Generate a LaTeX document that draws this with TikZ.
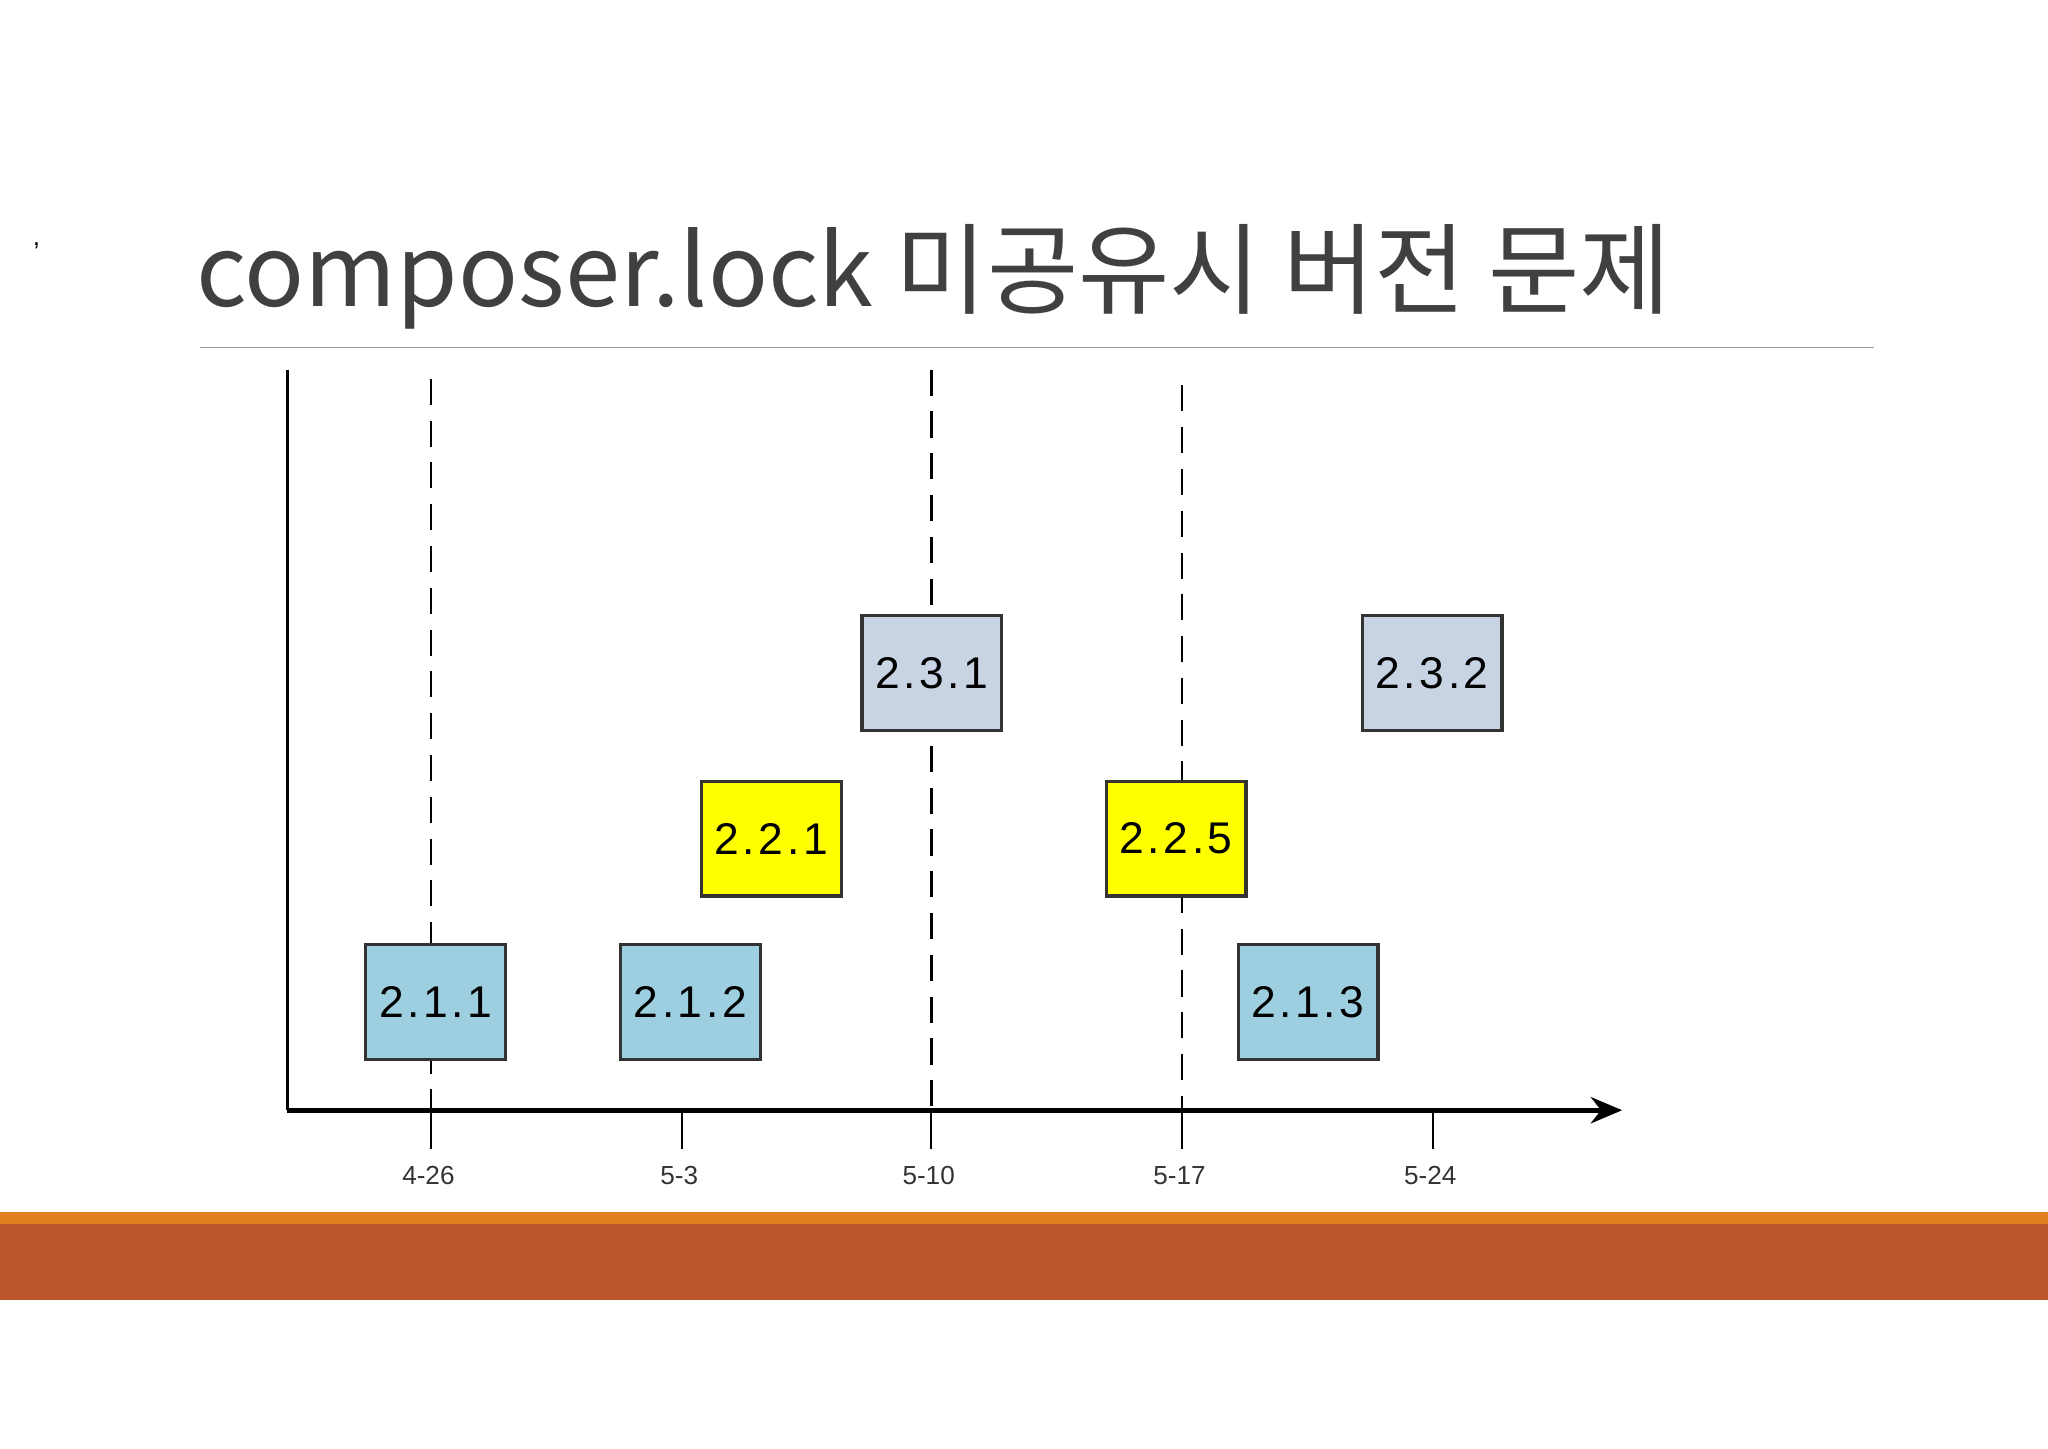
\documentclass[tikz,border=0pt]{standalone}
\usepackage{fontspec}
\setmainfont{Liberation Sans}
\newfontfamily\kr{Noto Sans CJK KR}
\usetikzlibrary{arrows.meta}
\definecolor{tblue}{HTML}{9DCFE0}
\definecolor{tgray}{HTML}{C8D4E4}
\definecolor{tyel}{HTML}{FFFF00}
\definecolor{band1}{HTML}{E2801F}
\definecolor{band2}{HTML}{BE562B}
\begin{document}
\begin{tikzpicture}[x=0.5pt,y=-0.5pt,
  ver/.style={draw=black!80,line width=1.2pt,minimum width=53.5pt,minimum height=44pt,inner sep=0pt,font=\fontsize{17}{17}\selectfont\addfontfeatures{LetterSpace=8}},
  dline/.style={dashed,dash pattern=on 10pt off 6pt,line width=1pt},
  tick/.style={line width=0.8pt},
  tlab/.style={font=\fontsize{10}{10}\selectfont,text=black!80}]
\useasboundingbox (0,0) rectangle (1568,1108.7);
\node[anchor=base west,inner sep=0pt,text=black!75,font=\kr\fontsize{38}{38}\selectfont] (title) at (150,235) {composer.lock 미공유시 버전 문제};
\node[font=\fontsize{10}{10}\selectfont] (cm) at (28,188) {,};
\coordinate (l1) at (153,266); \coordinate (l2) at (1435,266);
\draw[black!40,line width=0.6pt] (l1) -- (l2);
\fill[band1] (0,928) rectangle (1568,937);
\fill[band2] (0,937) rectangle (1568,995);
% axes
\coordinate (o) at (220,850); \coordinate (top) at (220,283); \coordinate (xe) at (1242,850);
\draw[line width=1.3pt] (top) -- (o);
\draw[line width=2pt,-{Stealth[length=12pt,width=10pt]}] (o) -- (xe);
% dashed
\foreach \x/\y in {330/290,713/283,905/295}{
  \draw[dline] (\x,\y) -- (\x,850);}
% ticks and labels
\foreach \x/\t in {330/4-26,522/5-3,713/5-10,905/5-17,1097/5-24}{
  \draw[tick] (\x,850) -- (\x,880);
  \node[tlab] at (\x-2,900) {\t};}
% boxes
\node[ver,fill=tblue] (b211) at (333.5,767) {2.1.1};
\node[ver,fill=tblue] (b212) at (528.5,767) {2.1.2};
\node[ver,fill=tblue] (b213) at (1001.5,767) {2.1.3};
\node[ver,fill=tyel] (b221) at (590.5,642) {2.2.1};
\node[ver,fill=tyel] (b225) at (900.5,642) {2.2.5};
\node[ver,fill=tgray] (b231) at (713.5,515.5) {2.3.1};
\node[ver,fill=tgray] (b232) at (1096.5,515.5) {2.3.2};
\end{tikzpicture}
\end{document}
